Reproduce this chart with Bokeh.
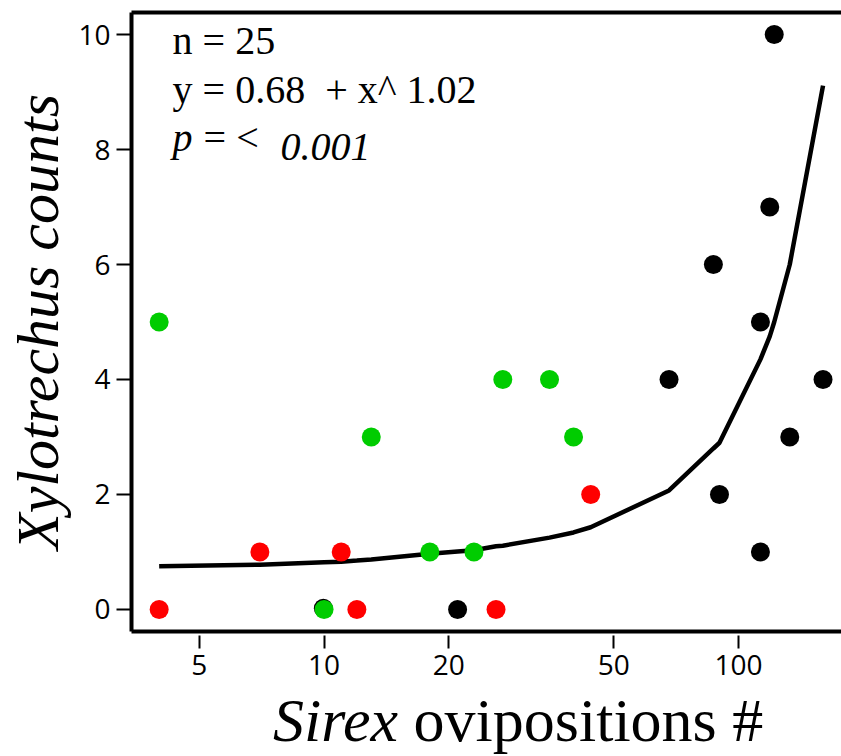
from bokeh.plotting import figure
from bokeh.models import Range1d, FixedTicker, LinearAxis, Label, Div
from bokeh.layouts import column
from bokeh.embed import file_html
from bokeh.resources import INLINE

# ---- data ----
green_x = [4, 10, 13, 18, 23, 27, 35, 40]
green_y = [5, 0, 3, 1, 1, 4, 4, 3]
red_x = [4, 7, 11, 12, 26, 44]
red_y = [0, 1, 1, 0, 0, 2]
black_x = [9.96, 21, 68, 87, 90, 113, 113, 119, 122, 133, 160]
black_y = [0.02, 0, 4, 6, 2, 5, 1, 7, 10, 3, 4]

fit_x = [4, 7, 10, 11, 12, 13, 18, 21, 23, 26, 27, 35, 40, 44, 68, 87, 90, 113, 119, 122, 133, 160]
fit_y = [0.75, 0.78, 0.82, 0.83, 0.85, 0.87, 0.97, 1.01, 1.03, 1.10, 1.11, 1.25, 1.34, 1.43,
         2.07, 2.80, 2.90, 4.35, 4.75, 5.0, 6.0, 9.11]

x_ticks = [5, 10, 20, 50, 100]
y_ticks = [0, 2, 4, 6, 8, 10]

ann_lines = ["n = 25", "y = 0.68\u00a0 + x^ 1.02"]
p_parts = ["p", "= <", "0.001"]
x_label_parts = ["Sirex", "ovipositions #"]
y_label = "Xylotrechus counts"

SERIF = "Liberation Serif"
SANS = "Open Sans"

p = figure(width=841, height=694, x_axis_type="log",
           x_range=Range1d(3.43, 177.3), y_range=Range1d(-0.383, 10.383),
           output_backend="svg", toolbar_location=None,
           min_border_left=131, min_border_right=0, min_border_top=12,
           min_border_bottom=63)
p.outline_line_color = None
p.xgrid.visible = False
p.ygrid.visible = False
p.background_fill_color = "white"
p.border_fill_color = "white"

# fit line then points
p.line(fit_x, fit_y, line_color="black", line_width=4.5)
p.scatter(black_x, black_y, size=19, fill_color="black", line_color=None)
p.scatter(green_x, green_y, size=19, fill_color="#00CC00", line_color=None)
p.scatter(red_x, red_y, size=19, fill_color="#FF0000", line_color=None)

# axes
xa = p.xaxis[0]
xa.ticker = FixedTicker(ticks=x_ticks, minor_ticks=[])
xa.major_label_overrides = {t: str(t) for t in x_ticks}
xa.axis_line_width = 4
xa.axis_line_color = "black"
xa.major_tick_in = -4
xa.major_tick_out = 17
xa.major_tick_line_width = 2
xa.minor_tick_line_color = None
xa.major_label_standoff = 6
xa.major_label_text_font = SANS
xa.major_label_text_font_size = "28px"
xa.major_label_text_color = "black"

ya = p.yaxis[0]
ya.ticker = FixedTicker(ticks=y_ticks, minor_ticks=[])
ya.axis_line_width = 4
ya.axis_line_color = "black"
ya.major_tick_in = 0
ya.major_tick_out = 15
ya.major_tick_line_width = 2
ya.minor_tick_line_color = None
ya.major_label_standoff = 6
ya.major_label_text_font = SANS
ya.major_label_text_font_size = "28px"
ya.major_label_text_color = "black"
ya.axis_label = y_label
ya.axis_label_text_font = SERIF
ya.axis_label_text_font_style = "italic"
ya.axis_label_text_font_size = "60px"
ya.axis_label_text_color = "black"
ya.axis_label_standoff = 4

top = LinearAxis(ticker=FixedTicker(ticks=[]), major_label_text_font_size="0px",
                 major_tick_line_color=None, minor_tick_line_color=None,
                 axis_line_width=4, axis_line_color="black")
p.add_layout(top, "above")

# annotation text
ax0 = 4.31
FS = "40px"
p.add_layout(Label(x=ax0, y=9.51, text=ann_lines[0], text_font=SERIF,
                   text_font_size=FS, text_color="black"))
p.add_layout(Label(x=ax0, y=8.66, text=ann_lines[1], text_font=SERIF,
                   text_font_size=FS, text_color="black"))
p.add_layout(Label(x=ax0, y=7.81, text=p_parts[0], text_font=SERIF, text_font_style="italic",
                   text_font_size=FS, text_color="black"))
p.add_layout(Label(x=ax0, y=7.81, x_offset=31, text=p_parts[1], text_font=SERIF,
                   text_font_size=FS, text_color="black"))
p.add_layout(Label(x=ax0, y=7.81, x_offset=108, text=p_parts[2], text_font=SERIF,
                   text_font_style="italic", text_font_size=FS, text_color="black"))

# x axis title (mixed italic / roman) as real HTML text below the plot
xtitle = Div(
    text=("<div style=\"margin-left:268px;white-space:nowrap;font-family:'Liberation Serif';"
          "font-size:62px;line-height:42px;color:black\">"
          f"<i>{x_label_parts[0]}</i> {x_label_parts[1]}</div>"),
    width=841, height=56)

layout = column(p, xtitle, spacing=0)
open("out.html", "w").write(file_html(layout, INLINE))
